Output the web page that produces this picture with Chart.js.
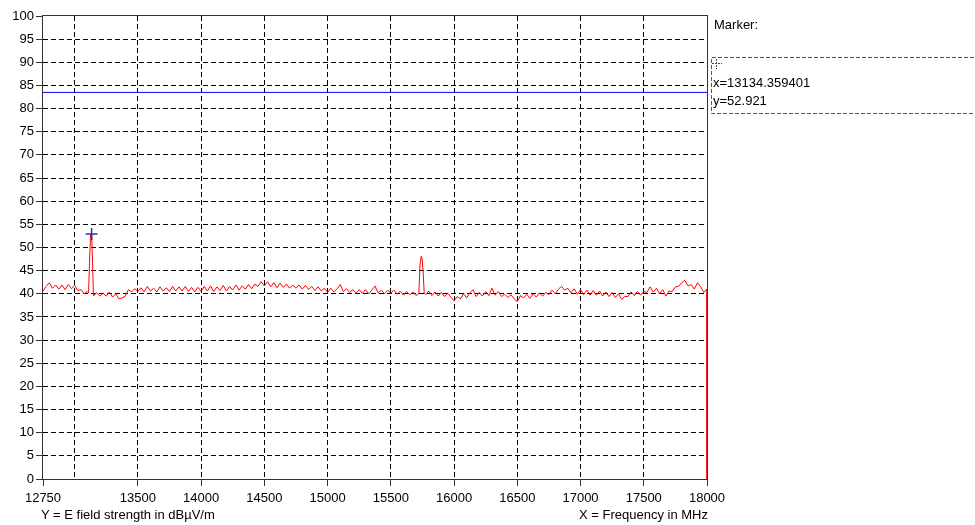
<!DOCTYPE html>
<html><head><meta charset="utf-8">
<script src="https://cdn.jsdelivr.net/npm/chart.js@4.4.1/dist/chart.umd.min.js"></script>
<style>
html,body{margin:0;padding:0;background:#fff;}
#wrap{position:relative;width:975px;height:525px;overflow:hidden;font-family:"Liberation Sans",Arial,sans-serif;font-size:13px;color:#000;}
canvas{position:absolute;left:0;top:0;}
.t{position:absolute;white-space:nowrap;line-height:15px;}
</style></head><body>
<div id="wrap">
<canvas id="c" width="975" height="525"></canvas>
<div class="t" style="left:714px;top:17px" id="markerTitle"></div>
<div class="t" style="left:713px;top:75px" id="markerX"></div>
<div class="t" style="left:713px;top:93px" id="markerY"></div>
<div class="t" style="left:41px;top:507px" id="yTitle"></div>
<div class="t" style="left:579px;top:507px" id="xTitle"></div>
</div>
<script>
// ---- data ----
const xTickValues = [12750, 13000, 13500, 14000, 14500, 15000, 15500, 16000, 16500, 17000, 17500, 18000];
const xTickLabels = ['12750', '', '13500', '14000', '14500', '15000', '15500', '16000', '16500', '17000', '17500', '18000'];
const yTickValues = [0, 5, 10, 15, 20, 25, 30, 35, 40, 45, 50, 55, 60, 65, 70, 75, 80, 85, 90, 95, 100];
const xTitle = 'X = Frequency in MHz';
const yTitle = 'Y = E field strength in dBµV/m';
const markerTitle = 'Marker:';

// measured trace (dBµV/m), one reading every 25 MHz from 12750 to 18000 MHz
const traceStartMHz = 12750;
const traceStepMHz = 25;
const traceLevels = [
  40.6, 41.6, 42.4, 41.2, 41.9, 41.0, 41.9, 40.9, 42.0, 41.1,
  41.8, 40.7, 40.9, 40.0, 40.5, 40.2, 39.6, 40.2, 39.5, 40.1,
  39.5, 40.4, 39.3, 40.0, 38.9, 39.1, 39.5, 40.9, 40.4, 41.1,
  40.5, 41.3, 40.4, 41.6, 40.6, 41.2, 40.4, 41.5, 40.6, 41.3,
  40.5, 41.6, 40.6, 41.5, 40.6, 41.6, 40.5, 41.4, 40.4, 41.4,
  40.5, 41.6, 40.6, 41.7, 40.5, 41.5, 40.7, 41.8, 40.6, 41.6,
  40.8, 41.9, 40.8, 41.7, 41.0, 42.0, 41.1, 42.1, 41.6, 42.6,
  41.7, 42.6, 41.5, 42.4, 41.3, 42.3, 41.4, 42.1, 41.2, 41.9,
  41.2, 41.9, 41.0, 41.8, 40.9, 41.6, 40.7, 41.5, 40.6, 41.2,
  40.3, 41.2, 40.4, 41.1, 42.0, 40.5, 41.1, 40.3, 40.9, 40.2,
  40.9, 40.1, 40.9, 40.0, 40.8, 41.7, 40.2, 40.8, 40.0, 40.8,
  40.1, 40.8, 39.9, 40.6, 39.7, 40.5, 39.8, 40.4, 39.6, 40.2,
  40.0, 39.8, 40.6, 39.6, 40.4, 39.5, 40.3, 39.4, 40.1, 39.3,
  38.5, 39.4, 38.9, 40.0, 39.1, 40.2, 40.9, 39.4, 40.3, 39.5,
  40.5, 39.6, 41.2, 39.7, 40.5, 39.4, 39.9, 39.2, 39.8, 38.9,
  38.3, 39.6, 39.1, 39.9, 39.0, 40.0, 39.3, 40.2, 39.5, 40.3,
  39.8, 40.8, 40.0, 41.0, 41.6, 40.8, 41.2, 40.2, 41.1, 39.9,
  40.9, 39.8, 40.8, 39.7, 40.7, 39.7, 40.6, 39.5, 40.4, 39.4,
  40.3, 39.2, 40.0, 38.8, 39.4, 39.4, 40.4, 39.6, 40.5, 39.7,
  40.5, 40.3, 41.5, 40.4, 41.2, 40.0, 40.9, 39.5, 40.6, 40.5,
  41.5, 41.6, 42.4, 42.9, 41.7, 42.0, 41.0, 42.4, 41.5, 40.3,
  41.0
];
// narrow emissions, read at finer resolution
const spike1Freqs  = [13110, 13118, 13126, 13134.359401, 13142, 13148];
const spike1Levels = [40.2, 46.8, 52.9, 52.921, 46.5, 40.1];
const spike2Freqs  = [15722, 15730, 15740, 15748, 15756, 15764];
const spike2Levels = [40.1, 46.0, 48.1, 47.5, 44.5, 40.2];
// sweep end drop
const endFreqs  = [18000];
const endLevels = [0];
// limit line
const limitFreqs  = [12750, 18000];
const limitLevels = [83.5, 83.5];
// marker
const markerFreqs  = [13134.359401];
const markerLevels = [52.921];

// ---- build ----
function pts(xs, ys) { return xs.map((x, i) => ({ x: x, y: ys[i] })); }
const spikeRanges = [[spike1Freqs[0], spike1Freqs[spike1Freqs.length - 1]], [spike2Freqs[0], spike2Freqs[spike2Freqs.length - 1]]];
let trace = traceLevels.map((v, i) => ({ x: traceStartMHz + i * traceStepMHz, y: v }))
  .filter(p => !spikeRanges.some(r => p.x >= r[0] && p.x <= r[1]));
trace = trace.concat(pts(spike1Freqs, spike1Levels), pts(spike2Freqs, spike2Levels));
trace.sort((a, b) => a.x - b.x);
trace = trace.concat(pts(endFreqs, endLevels));

document.getElementById('markerTitle').textContent = markerTitle;
document.getElementById('markerX').textContent = 'x=' + markerFreqs[0].toFixed(6);
document.getElementById('markerY').textContent = 'y=' + markerLevels[0].toFixed(3);
document.getElementById('xTitle').textContent = xTitle;
document.getElementById('yTitle').textContent = yTitle;

const FONT = { family: '"Liberation Sans", Arial, sans-serif', size: 13 };

const framePlugin = {
  id: 'frame',
  beforeDatasetsDraw(chart) {
    const a = chart.chartArea, ctx = chart.ctx;
    ctx.save();
    ctx.strokeStyle = '#333';
    ctx.lineWidth = 1;
    ctx.setLineDash([]);
    ctx.strokeRect(Math.round(a.left) - 0.5, Math.round(a.top) - 0.5, Math.round(a.right - a.left) + 1, Math.round(a.bottom - a.top) + 1);
    ctx.restore();
  },
  afterDraw(chart) {
    const ctx = chart.ctx;
    ctx.save();
    // marker panel box
    ctx.strokeStyle = '#555';
    ctx.lineWidth = 1;
    ctx.setLineDash([4, 2]);
    ctx.beginPath();
    ctx.moveTo(980, 57.5); ctx.lineTo(711.5, 57.5); ctx.lineTo(711.5, 113.5); ctx.lineTo(980, 113.5);
    ctx.stroke();
    // small crosshair icon
    ctx.setLineDash([2, 1]);
    ctx.strokeStyle = '#444';
    ctx.beginPath();
    ctx.moveTo(716.5, 59); ctx.lineTo(716.5, 69);
    ctx.moveTo(712, 63.5); ctx.lineTo(722, 63.5);
    ctx.stroke();
    ctx.restore();
  }
};

new Chart(document.getElementById('c'), {
  type: 'line',
  data: {
    datasets: [
      { data: pts(markerFreqs, markerLevels), type: 'scatter', showLine: false, pointStyle: 'cross', pointRadius: 6, pointBorderWidth: 1.5, pointBorderColor: '#3030a0', pointBackgroundColor: '#3030a0', order: 0 },
      { data: trace, borderColor: '#ff0000', borderWidth: 1, pointRadius: 0, tension: 0, order: 1 },
      { data: pts(limitFreqs, limitLevels), borderColor: '#0000ff', borderWidth: 1, pointRadius: 0, order: 2 }
    ]
  },
  options: {
    responsive: false,
    animation: false,
    devicePixelRatio: 1,
    layout: { padding: { left: 0, top: 16, right: 268, bottom: 0 } },
    plugins: { legend: { display: false }, tooltip: { enabled: false } },
    scales: {
      x: {
        type: 'linear', min: 12750, max: 18000,
        afterBuildTicks(s) { s.ticks = xTickValues.map(v => ({ value: v })); },
        afterFit(s) { s.height = 46; },
        ticks: {
          autoSkip: false, maxRotation: 0, padding: 5, color: '#000', font: FONT,
          callback(v) { const i = xTickValues.indexOf(v); return i >= 0 ? xTickLabels[i] : ''; }
        },
        grid: {
          color(c) { const v = c.tick && c.tick.value; return (v === 12750 || v === 18000) ? 'rgba(0,0,0,0)' : '#000'; },
          tickColor(c) { const v = c.tick && c.tick.value; return v === 13000 ? 'rgba(0,0,0,0)' : '#333'; },
          tickLength: 7, lineWidth: 1, tickBorderDash: []
        },
        border: { display: false, dash: [5, 3] }
      },
      y: {
        min: 0, max: 100,
        afterBuildTicks(s) { s.ticks = yTickValues.map(v => ({ value: v })); },
        afterFit(s) { s.width = 43; },
        ticks: { autoSkip: false, padding: 2, color: '#000', font: FONT },
        grid: {
          color(c) { const v = c.tick && c.tick.value; return (v === 0 || v === 100) ? 'rgba(0,0,0,0)' : '#000'; },
          tickColor: '#333', tickLength: 7, lineWidth: 1, tickBorderDash: []
        },
        border: { display: false, dash: [5, 3] }
      }
    }
  },
  plugins: [framePlugin]
});
</script>
</body></html>
